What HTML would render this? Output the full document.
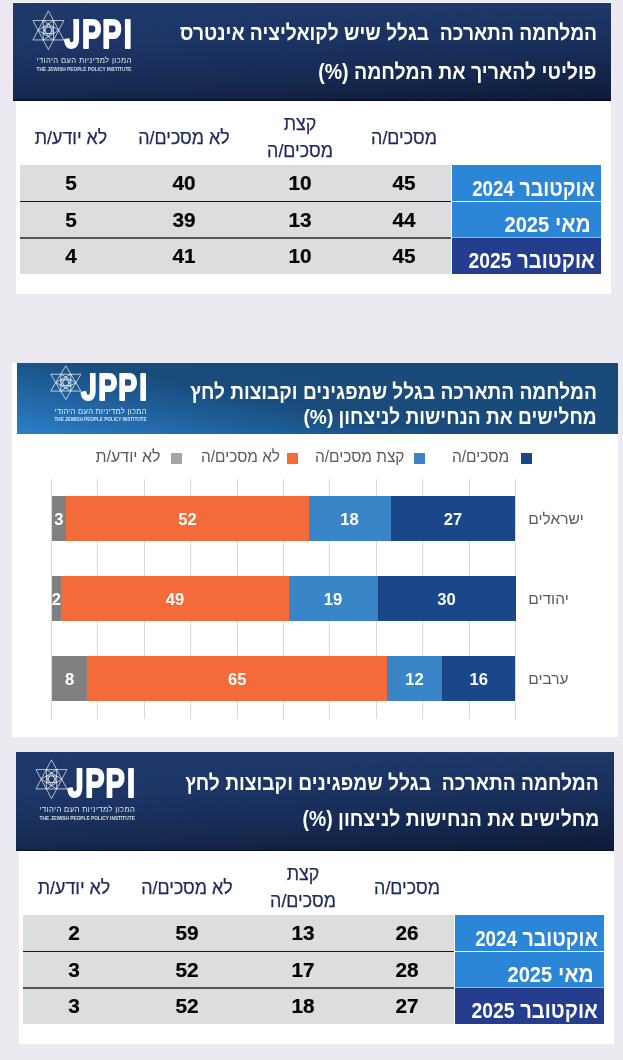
<!DOCTYPE html>
<html lang="he">
<head>
<meta charset="utf-8">
<title>JPPI</title>
<style>
html,body{margin:0;padding:0}
body{width:623px;height:1060px;background:#eceaf0;position:relative;overflow:hidden;font-family:"Liberation Sans",sans-serif}
.abs{position:absolute}
.hdrA{background:linear-gradient(180deg,#1f396c 0%,#1e386a 38%,#1b3260 68%,#16284c 100%);overflow:hidden}
.hdrA:before{content:"";position:absolute;left:0;top:0;right:0;bottom:0;background:linear-gradient(180deg,#1f3869 0%,#1b305c 38%,#14264b 68%,#0e1b38 100%);-webkit-mask-image:linear-gradient(90deg,transparent 0%,#000 100%);mask-image:linear-gradient(90deg,transparent 0%,#000 100%)}
.hdrA:after{content:"";position:absolute;left:0;right:0;bottom:0;height:2.5px;background:linear-gradient(180deg,rgba(4,8,40,0),rgba(4,8,40,.85))}
.hdrB{background:linear-gradient(11.3deg,#2b7fcb 0%,#1b5489 37%,#194b7b 45.7%,#184a79 100%)}
.white{background:#fff}
.ttl{position:absolute;color:#fff;font-weight:700;white-space:nowrap;direction:rtl;transform-origin:right center;text-align:right}
.ch{position:absolute;color:#1c2b5e;white-space:nowrap;direction:rtl;text-align:center;transform:translateX(-50%) scaleX(.93);font-size:19.2px;line-height:27px;-webkit-text-stroke:.25px #1c2b5e}
.num{position:absolute;color:#000;font-weight:700;font-size:20.8px;line-height:20px;-webkit-text-stroke:.2px #000;transform:translateX(-50%);white-space:nowrap}
.lab{position:absolute;color:#fff;font-weight:700;font-size:22.5px;line-height:24px;white-space:nowrap;direction:rtl;transform-origin:right center}
.lab .d{font-size:21.6px}
.grey{background:#dcddde}
.lb{background:#2b86d8}
.db{background:#253d8f}
.logo{position:absolute;overflow:visible}
.leg{position:absolute;color:#595959;font-size:16px;line-height:18px;white-space:nowrap;direction:rtl;transform-origin:left center}
.sq{position:absolute;width:11px;height:10.6px}
.cat{position:absolute;color:#595959;font-size:15.5px;line-height:18px;white-space:nowrap;direction:rtl}
.bar{position:absolute;height:45.4px}
.bv{position:absolute;color:#fff;font-weight:700;font-size:16.6px;line-height:45.4px;text-align:center;transform:translateX(-50%)}
.gl{position:absolute;width:1px;background:#d9d9d9;top:479px;height:239.7px}
</style>
</head>
<body>
<div class="abs" style="left:13px;top:2px;width:598px;height:1px;background:#f7f6fb"></div>
<div class="abs white" style="left:16px;top:100px;width:595px;height:194.2px"></div>
<div class="abs hdrA" style="left:13px;top:3px;width:598px;height:97.6px"></div>
<svg class="logo" style="left:30px;top:8px" width="104.5" height="65.9" viewBox="0 0 104.5 65.9">
<path d="M18.40 2.85 L33.90 31.95 L2.90 31.95Z M18.40 41.65 L2.90 12.55 L33.90 12.55Z M28.73 22.25 L13.23 31.95 L13.23 12.55Z M8.07 22.25 L23.57 12.55 L23.57 31.95Z M18.40 15.78 L23.57 25.48 L13.23 25.48Z M18.40 28.72 L13.23 19.02 L23.57 19.02Z" fill="none" stroke="#fff" stroke-width="0.75" stroke-opacity="0.9"/>
<circle cx="18.40" cy="22.25" r="3.73" fill="none" stroke="#fff" stroke-width="0.6" stroke-opacity="0.6"/>
<clipPath id="cj8"><rect x="43.37" y="0" width="200" height="200"/><rect x="0" y="18.19" width="200" height="200"/></clipPath>
<g clip-path="url(#cj8)"><text transform="scale(0.722,1)" x="47.51 71.87 100.12 129.90" y="39.9" font-family="Liberation Sans, sans-serif" font-weight="700" font-size="40" fill="#fff" stroke="#fff" stroke-width="2" stroke-linejoin="round">JPPI</text></g>
<text x="101.5" y="54.8" direction="rtl" text-anchor="start" font-family="Liberation Sans, sans-serif" font-size="7.6" fill="#fff" fill-opacity="0.88" textLength="94.9" lengthAdjust="spacing">המכון למדיניות העם היהודי</text>
<text x="6.6" y="62.9" font-family="Liberation Sans, sans-serif" font-weight="700" font-size="5.4" fill="#fff" fill-opacity="0.82" textLength="94.9" lengthAdjust="spacingAndGlyphs">THE JEWISH PEOPLE POLICY INSTITUTE</text>
</svg>
<div class="ttl" style="right:26.3px;top:19.5px;font-size:21.7px;line-height:26px;transform:scaleX(.887)">המלחמה התארכה&nbsp; בגלל שיש לקואליציה אינטרס</div>
<div class="ttl" style="right:26.3px;top:58.5px;font-size:21.7px;line-height:26px;transform:scaleX(.899)">פוליטי להאריך את המלחמה (%)</div>
<div class="abs grey" style="left:20.2px;top:165.0px;width:431.2px;height:109px"></div>
<div class="abs lb" style="left:452.0px;top:165.0px;width:149px;height:72.7px"></div>
<div class="abs db" style="left:452.0px;top:237.7px;width:149px;height:36.3px"></div>
<div class="abs" style="left:20.2px;top:201.0px;width:431.2px;height:1.2px;background:#1a1a1a"></div>
<div class="abs" style="left:20.2px;top:237.0px;width:431.2px;height:1.6px;background:#555"></div>
<div class="abs" style="left:452.0px;top:201.0px;width:149px;height:1px;background:#f4f8fd"></div>
<div class="abs" style="left:452.0px;top:237.0px;width:149px;height:1px;background:#9db4dd"></div>
<div class="ch" style="left:404.0px;top:124.0px">מסכים/ה</div>
<div class="ch" style="left:300.0px;top:110.0px">קצת<br>מסכים/ה</div>
<div class="ch" style="left:184.0px;top:124.0px">לא מסכים/ה</div>
<div class="ch" style="left:71.0px;top:124.0px">לא יודע/ת</div>
<div class="num" style="left:404.0px;top:173.2px">45</div>
<div class="num" style="left:300.0px;top:173.2px">10</div>
<div class="num" style="left:184.0px;top:173.2px">40</div>
<div class="num" style="left:71.0px;top:173.2px">5</div>
<div class="lab" style="right:27.9px;top:176.6px;transform:scaleX(0.871)">אוקטובר <span class="d">2024</span></div>
<div class="num" style="left:404.0px;top:209.6px">44</div>
<div class="num" style="left:300.0px;top:209.6px">13</div>
<div class="num" style="left:184.0px;top:209.6px">39</div>
<div class="num" style="left:71.0px;top:209.6px">5</div>
<div class="lab" style="right:32.6px;top:213.2px;transform:scaleX(0.93)">מאי <span class="d">2025</span></div>
<div class="num" style="left:404.0px;top:246.4px">45</div>
<div class="num" style="left:300.0px;top:246.4px">10</div>
<div class="num" style="left:184.0px;top:246.4px">41</div>
<div class="num" style="left:71.0px;top:246.4px">4</div>
<div class="lab" style="right:27.9px;top:249.4px;transform:scaleX(0.897)">אוקטובר <span class="d">2025</span></div>
<div class="abs white" style="left:12px;top:363px;width:606px;height:373.6px"></div>
<div class="abs hdrB" style="left:17px;top:363px;width:601px;height:70.6px"></div>
<svg class="logo" style="left:48px;top:364px" width="101.5" height="60.0" viewBox="0 0 101.5 60.0">
<path d="M17.80 1.80 L32.90 27.07 L2.70 27.07Z M17.80 35.50 L2.70 10.22 L32.90 10.22Z M27.87 18.65 L12.77 27.07 L12.77 10.22Z M7.73 18.65 L22.83 10.22 L22.83 27.07Z M17.80 13.03 L22.83 21.46 L12.77 21.46Z M17.80 24.27 L12.77 15.84 L22.83 15.84Z" fill="none" stroke="#fff" stroke-width="0.75" stroke-opacity="0.9"/>
<circle cx="17.80" cy="18.65" r="3.24" fill="none" stroke="#fff" stroke-width="0.6" stroke-opacity="0.6"/>
<clipPath id="cj364"><rect x="41.94" y="0" width="200" height="200"/><rect x="0" y="16.15" width="200" height="200"/></clipPath>
<g clip-path="url(#cj364)"><text transform="scale(0.775,1)" x="42.71 64.75 90.81 117.85" y="35.9" font-family="Liberation Sans, sans-serif" font-weight="700" font-size="36.6" fill="#fff" stroke="#fff" stroke-width="2" stroke-linejoin="round">JPPI</text></g>
<text x="98.5" y="50.3" direction="rtl" text-anchor="start" font-family="Liberation Sans, sans-serif" font-size="7.6" fill="#fff" fill-opacity="0.88" textLength="92.0" lengthAdjust="spacing">המכון למדיניות העם היהודי</text>
<text x="6.5" y="57.0" font-family="Liberation Sans, sans-serif" font-weight="700" font-size="5.1" fill="#fff" fill-opacity="0.82" textLength="92.0" lengthAdjust="spacingAndGlyphs">THE JEWISH PEOPLE POLICY INSTITUTE</text>
</svg>
<div class="ttl" style="right:26.4px;top:378.5px;font-size:20.8px;line-height:26px;transform:scaleX(.92)">המלחמה התארכה בגלל שמפגינים וקבוצות לחץ</div>
<div class="ttl" style="right:26.4px;top:403.8px;font-size:20.8px;line-height:26px;transform:scaleX(.92)">מחלישים את הנחישות לניצחון (%)</div>
<div class="gl" style="left:51.0px"></div>
<div class="gl" style="left:97.4px"></div>
<div class="gl" style="left:143.8px"></div>
<div class="gl" style="left:190.2px"></div>
<div class="gl" style="left:236.6px"></div>
<div class="gl" style="left:283.0px"></div>
<div class="gl" style="left:329.4px"></div>
<div class="gl" style="left:375.8px"></div>
<div class="gl" style="left:422.2px"></div>
<div class="gl" style="left:468.6px"></div>
<div class="gl" style="left:515.0px"></div>
<div class="leg" style="left:452.0px;top:448.1px;transform:scaleX(0.968)">מסכים/ה</div>
<div class="sq" style="left:521px;top:453.2px;background:#1b4789"></div>
<div class="leg" style="left:315.4px;top:448.1px;transform:scaleX(0.965)">קצת מסכים/ה</div>
<div class="sq" style="left:414.4px;top:453.2px;background:#3a85c8"></div>
<div class="leg" style="left:200.5px;top:448.1px;transform:scaleX(0.964)">לא מסכים/ה</div>
<div class="sq" style="left:286.9px;top:453.2px;background:#f26b38"></div>
<div class="leg" style="left:95.5px;top:448.1px;transform:scaleX(1.0)">לא יודע/ת</div>
<div class="sq" style="left:171.2px;top:453.2px;background:#a5a5a5"></div>
<div class="bar" style="left:51.5px;top:495.8px;width:15.2px;background:#808080"></div>
<div class="bv" style="left:58.9px;top:497.1px">3</div>
<div class="bar" style="left:66.3px;top:495.8px;width:242.6px;background:#f26b38"></div>
<div class="bv" style="left:187.4px;top:497.1px">52</div>
<div class="bar" style="left:308.5px;top:495.8px;width:82.5px;background:#3a85c8"></div>
<div class="bv" style="left:349.6px;top:497.1px">18</div>
<div class="bar" style="left:390.6px;top:495.8px;width:124.9px;background:#1a478a"></div>
<div class="bv" style="left:453.1px;top:497.1px">27</div>
<div class="cat" style="left:528.3px;top:509.5px">ישראלים</div>
<div class="bar" style="left:51.5px;top:575.8px;width:10.2px;background:#808080"></div>
<div class="bv" style="left:56.4px;top:577.1px">2</div>
<div class="bar" style="left:61.3px;top:575.8px;width:227.9px;background:#f26b38"></div>
<div class="bv" style="left:175.1px;top:577.1px">49</div>
<div class="bar" style="left:288.8px;top:575.8px;width:89.1px;background:#3a85c8"></div>
<div class="bv" style="left:333.1px;top:577.1px">19</div>
<div class="bar" style="left:377.5px;top:575.8px;width:138.0px;background:#1a478a"></div>
<div class="bv" style="left:446.5px;top:577.1px">30</div>
<div class="cat" style="left:528.3px;top:589.5px">יהודים</div>
<div class="bar" style="left:51.5px;top:655.8px;width:36.3px;background:#808080"></div>
<div class="bv" style="left:69.5px;top:657.1px">8</div>
<div class="bar" style="left:87.4px;top:655.8px;width:300.2px;background:#f26b38"></div>
<div class="bv" style="left:237.3px;top:657.1px">65</div>
<div class="bar" style="left:387.2px;top:655.8px;width:55.1px;background:#3a85c8"></div>
<div class="bv" style="left:414.5px;top:657.1px">12</div>
<div class="bar" style="left:441.9px;top:655.8px;width:73.6px;background:#1a478a"></div>
<div class="bv" style="left:478.7px;top:657.1px">16</div>
<div class="cat" style="left:528.3px;top:669.5px">ערבים</div>
<div class="abs white" style="left:19px;top:850px;width:595px;height:194px"></div>
<div class="abs hdrA" style="left:16px;top:752px;width:598px;height:99px"></div>
<svg class="logo" style="left:33px;top:757px" width="104.9" height="66.2" viewBox="0 0 104.9 66.2">
<path d="M18.50 2.85 L34.00 31.95 L3.00 31.95Z M18.50 41.65 L3.00 12.55 L34.00 12.55Z M28.83 22.25 L13.33 31.95 L13.33 12.55Z M8.17 22.25 L23.67 12.55 L23.67 31.95Z M18.50 15.78 L23.67 25.48 L13.33 25.48Z M18.50 28.72 L13.33 19.02 L23.67 19.02Z" fill="none" stroke="#fff" stroke-width="0.75" stroke-opacity="0.9"/>
<circle cx="18.50" cy="22.25" r="3.73" fill="none" stroke="#fff" stroke-width="0.6" stroke-opacity="0.6"/>
<clipPath id="cj757"><rect x="43.67" y="0" width="200" height="200"/><rect x="0" y="18.19" width="200" height="200"/></clipPath>
<g clip-path="url(#cj757)"><text transform="scale(0.722,1)" x="47.92 72.29 100.54 130.32" y="39.9" font-family="Liberation Sans, sans-serif" font-weight="700" font-size="40" fill="#fff" stroke="#fff" stroke-width="2" stroke-linejoin="round">JPPI</text></g>
<text x="101.9" y="54.9" direction="rtl" text-anchor="start" font-family="Liberation Sans, sans-serif" font-size="7.6" fill="#fff" fill-opacity="0.88" textLength="95.3" lengthAdjust="spacing">המכון למדיניות העם היהודי</text>
<text x="6.6" y="63.2" font-family="Liberation Sans, sans-serif" font-weight="700" font-size="5.4" fill="#fff" fill-opacity="0.82" textLength="95.3" lengthAdjust="spacingAndGlyphs">THE JEWISH PEOPLE POLICY INSTITUTE</text>
</svg>
<div class="ttl" style="right:23.8px;top:770px;font-size:21.7px;line-height:26px;transform:scaleX(.886)">המלחמה התארכה&nbsp; בגלל שמפגינים וקבוצות לחץ</div>
<div class="ttl" style="right:23.8px;top:806.2px;font-size:21.7px;line-height:26px;transform:scaleX(.893)">מחלישים את הנחישות לניצחון (%)</div>
<div class="abs grey" style="left:23.3px;top:915.0px;width:431.2px;height:109px"></div>
<div class="abs lb" style="left:455.1px;top:915.0px;width:149px;height:72.7px"></div>
<div class="abs db" style="left:455.1px;top:987.7px;width:149px;height:36.3px"></div>
<div class="abs" style="left:23.3px;top:951.0px;width:431.2px;height:1.2px;background:#1a1a1a"></div>
<div class="abs" style="left:23.3px;top:987.0px;width:431.2px;height:1.6px;background:#555"></div>
<div class="abs" style="left:455.1px;top:951.0px;width:149px;height:1px;background:#f4f8fd"></div>
<div class="abs" style="left:455.1px;top:987.0px;width:149px;height:1px;background:#9db4dd"></div>
<div class="ch" style="left:407.1px;top:874.0px">מסכים/ה</div>
<div class="ch" style="left:303.1px;top:860.0px">קצת<br>מסכים/ה</div>
<div class="ch" style="left:187.1px;top:874.0px">לא מסכים/ה</div>
<div class="ch" style="left:74.1px;top:874.0px">לא יודע/ת</div>
<div class="num" style="left:407.1px;top:923.2px">26</div>
<div class="num" style="left:303.1px;top:923.2px">13</div>
<div class="num" style="left:187.1px;top:923.2px">59</div>
<div class="num" style="left:74.1px;top:923.2px">2</div>
<div class="lab" style="right:24.8px;top:926.6px;transform:scaleX(0.871)">אוקטובר <span class="d">2024</span></div>
<div class="num" style="left:407.1px;top:959.6px">28</div>
<div class="num" style="left:303.1px;top:959.6px">17</div>
<div class="num" style="left:187.1px;top:959.6px">52</div>
<div class="num" style="left:74.1px;top:959.6px">3</div>
<div class="lab" style="right:29.5px;top:963.2px;transform:scaleX(0.93)">מאי <span class="d">2025</span></div>
<div class="num" style="left:407.1px;top:996.4px">27</div>
<div class="num" style="left:303.1px;top:996.4px">18</div>
<div class="num" style="left:187.1px;top:996.4px">52</div>
<div class="num" style="left:74.1px;top:996.4px">3</div>
<div class="lab" style="right:24.8px;top:999.4px;transform:scaleX(0.897)">אוקטובר <span class="d">2025</span></div>
</body>
</html>
